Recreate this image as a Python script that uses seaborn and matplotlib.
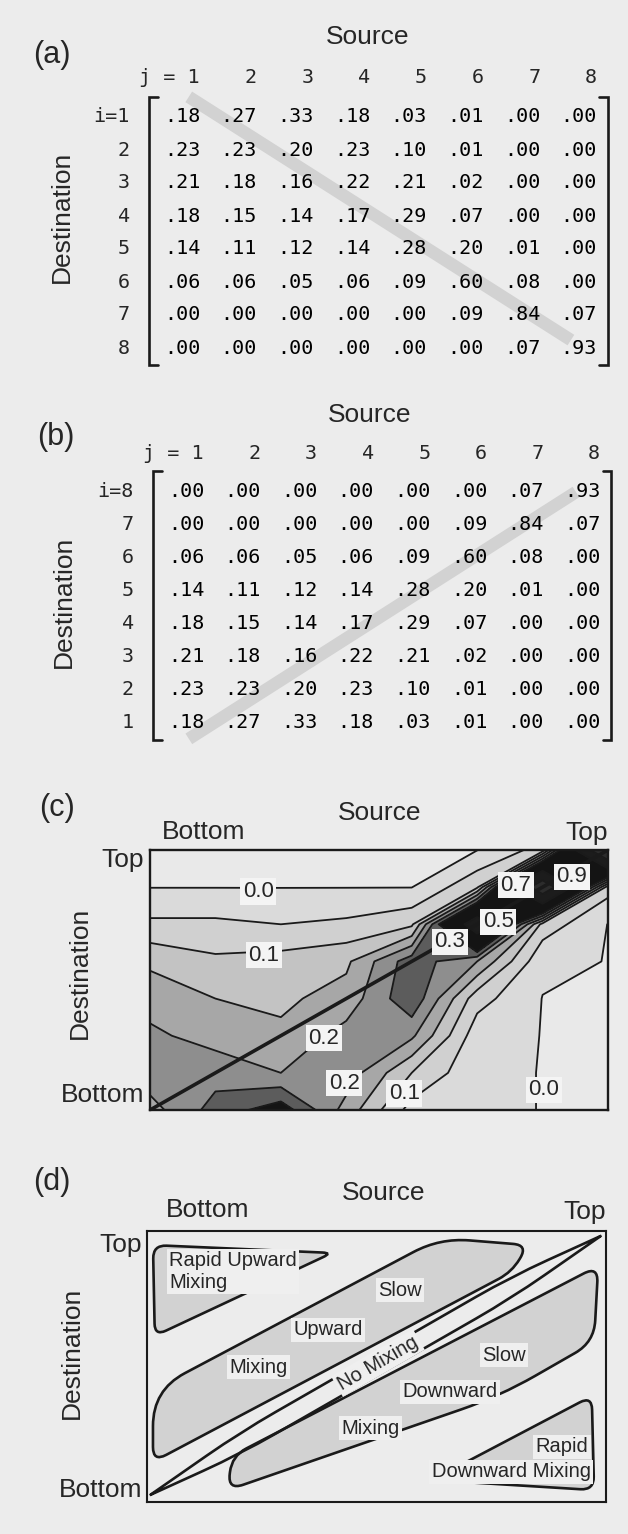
import numpy as np
import matplotlib
matplotlib.use("Agg")
import matplotlib.pyplot as plt
from matplotlib.colors import ListedColormap
from matplotlib.path import Path
from matplotlib.patches import PathPatch
import seaborn as sns

sns.set_theme(style="white")
plt.rcParams["font.family"] = ["Liberation Sans", "DejaVu Sans"]

# ---------------------------------------------------------------- data
# layers, numbered from the bottom (1) to the top (8)
layers = [1, 2, 3, 4, 5, 6, 7, 8]

# fraction of destination layer i that came from source layer j
dest_1 = [0.18, 0.27, 0.33, 0.18, 0.03, 0.01, 0.00, 0.00]
dest_2 = [0.23, 0.23, 0.20, 0.23, 0.10, 0.01, 0.00, 0.00]
dest_3 = [0.21, 0.18, 0.16, 0.22, 0.21, 0.02, 0.00, 0.00]
dest_4 = [0.18, 0.15, 0.14, 0.17, 0.29, 0.07, 0.00, 0.00]
dest_5 = [0.14, 0.11, 0.12, 0.14, 0.28, 0.20, 0.01, 0.00]
dest_6 = [0.06, 0.06, 0.05, 0.06, 0.09, 0.60, 0.08, 0.00]
dest_7 = [0.00, 0.00, 0.00, 0.00, 0.00, 0.09, 0.84, 0.07]
dest_8 = [0.00, 0.00, 0.00, 0.00, 0.00, 0.00, 0.07, 0.93]

# contour levels; the lowest one traces the edge of the zero region
line_levels = [0.001, 0.05, 0.10, 0.15, 0.20, 0.25, 0.30, 0.50, 0.70, 0.90]
fill_levels = [-1.0] + line_levels + [2.0]
fill_colors = ["#e9e9e9", "#dadada", "#d0d0d0", "#c3c3c3", "#a7a7a7",
               "#8e8e8e", "#5c5c5c", "#141414", "#1c1c1c", "#2c2c2c", "#0c0c0c"]

# contour labels: text and position as fraction of the panel box
clabel_text = ["0.0", "0.1", "0.2", "0.2", "0.1", "0.0", "0.3", "0.5", "0.7", "0.9"]
clabel_x = [0.236, 0.249, 0.380, 0.424, 0.555, 0.860, 0.655, 0.760, 0.799, 0.921]
clabel_y = [0.840, 0.596, 0.276, 0.103, 0.064, 0.077, 0.647, 0.724, 0.865, 0.897]

# schematic regions (box fractions) with corner rounding (box-height units)
rapid_up_pts = [(0.013, 0.948), (0.403, 0.919), (0.017, 0.613)]
rapid_up_rad = [0.05, 0.035, 0.045]
slow_up_pts = [(0.013, 0.148), (0.013, 0.413), (0.638, 0.974), (0.830, 0.948), (0.795, 0.849)]
slow_up_rad = [0.055, 0.15, 0.11, 0.055, 0.055]
slow_down_pts = [(0.176, 0.044), (0.185, 0.170), (0.983, 0.871), (0.974, 0.590), (0.769, 0.391)]
slow_down_rad = [0.06, 0.06, 0.06, 0.08, 0.15]
rapid_down_pts = [(0.621, 0.081), (0.969, 0.391), (0.974, 0.044)]
rapid_down_rad = [0.04, 0.05, 0.05]
no_mix_pts = [(0.007, 0.026), (0.203, 0.257), (0.793, 0.831), (0.989, 0.982),
              (0.793, 0.751), (0.203, 0.177)]
no_mix_rad = [0.004, 0.15, 0.15, 0.004, 0.15, 0.15]

region_text = ["Rapid Upward\nMixing", "Slow", "Upward", "Mixing", "No Mixing",
               "Slow", "Downward", "Mixing", "Rapid", "Downward Mixing"]
region_x = [0.048, 0.551, 0.394, 0.242, 0.503, 0.778, 0.660, 0.486, 0.962, 0.967]
region_y = [0.851, 0.782, 0.635, 0.498, 0.513, 0.542, 0.406, 0.273, 0.203, 0.111]
region_ha = ["left", "center", "center", "center", "center",
             "center", "center", "center", "right", "right"]

# ---------------------------------------------------------------- style
BG = "#ececec"
W, H = 628, 1534
MONO = "DejaVu Sans Mono"
LBL = 19

fig = plt.figure(figsize=(W / 100, H / 100), dpi=100, facecolor=BG)


def rect(left, top, right, bottom):
    return [left / W, 1 - bottom / H, (right - left) / W, (bottom - top) / H]


def ftext(x, y, s, **kw):
    fig.text(x / W, 1 - y / H, s, **kw)


matrix = np.array([dest_1, dest_2, dest_3, dest_4, dest_5, dest_6, dest_7, dest_8])
cell_text = np.array([[".%02d" % round(v * 100) for v in row] for row in matrix])
clear = ListedColormap([(0, 0, 0, 0)])


def matrix_panel(box, mat, txt, row_names, header_y, band):
    ax = fig.add_axes(rect(*box))
    sns.heatmap(mat, annot=txt, fmt="", cmap=clear, cbar=False, ax=ax,
                xticklabels=False, yticklabels=False,
                annot_kws=dict(family=MONO, size=14.5, color="black"))
    ax.set_facecolor("none")
    for s in ax.spines.values():
        s.set_visible(False)
    # stippled diagonal band
    ax.plot(band[0], band[1], color="#d2d2d2", lw=9, solid_capstyle="butt",
            zorder=0.5, clip_on=False)
    # column headers and row labels
    for k, j in enumerate(layers):
        ax.text(k + 0.82, header_y, ("j = %d" % j) if k == 0 else str(j),
                ha="right", va="center", family=MONO, size=14.5)
    for r, name in enumerate(row_names):
        ax.text(-0.42, r + 0.5, name, ha="right", va="center", family=MONO, size=14.5)
    # matrix brackets
    y0, y1 = -0.1, len(layers) + 0.03
    ax.plot([0.07, -0.08, -0.08, 0.07], [y0, y0, y1, y1], color="k", lw=1.9,
            clip_on=False, solid_joinstyle="miter")
    x8 = len(layers) + 0.01
    ax.plot([x8 - 0.15, x8, x8, x8 - 0.15], [y0, y0, y1, y1], color="k", lw=1.9,
            clip_on=False, solid_joinstyle="miter")
    return ax


# (a) destination 1 at the top
names_a = ["i=1"] + [str(i) for i in layers[1:]]
matrix_panel((153.6, 100.5, 607.2, 364.5), matrix, cell_text, names_a, -0.71,
             ([0.62, 7.36], [-0.11, 7.26]))
ftext(52, 55, "(a)", ha="center", va="center", size=22)
ftext(368, 37, "Source", ha="center", va="center", size=LBL)
ftext(62, 217, "Destination", ha="center", va="center", size=LBL, rotation=90)

# (b) destination 8 at the top
names_b = ["i=8"] + [str(i) for i in layers[::-1][1:]]
matrix_panel((157.7, 474.5, 610.5, 739.5), matrix[::-1], cell_text[::-1], names_b, -0.62,
             ([0.55, 7.39], [7.98, 0.53]))
ftext(56, 437, "(b)", ha="center", va="center", size=22)
ftext(370, 415, "Source", ha="center", va="center", size=LBL)
ftext(64, 602, "Destination", ha="center", va="center", size=LBL, rotation=90)

# (c) contoured matrix
axc = fig.add_axes(rect(150, 850, 608, 1110))
X, Y = np.meshgrid(layers, layers)
axc.contourf(X, Y, matrix, levels=fill_levels, colors=fill_colors)
axc.contour(X, Y, matrix, levels=line_levels, colors="k", linewidths=1.3)
axc.plot(layers, layers, color="k", lw=2.6)
span = layers[-1] - layers[0]
for t, bx, by in zip(clabel_text, clabel_x, clabel_y):
    axc.text(layers[0] + span * bx, layers[0] + span * by, t, ha="center", va="center",
             size=16, zorder=5,
             bbox=dict(boxstyle="square,pad=0.12", fc="#f4f4f4", ec="none"))
axc.set_xlim(layers[0], layers[-1])
axc.set_ylim(layers[0], layers[-1])
axc.set_xticks([])
axc.set_yticks([])
for s in axc.spines.values():
    s.set_color("k")
    s.set_linewidth(1.7)
ftext(57, 808, "(c)", ha="center", va="center", size=22)
ftext(380, 813, "Source", ha="center", va="center", size=LBL)
ftext(204, 832, "Bottom", ha="center", va="center", size=LBL)
ftext(608, 833, "Top", ha="right", va="center", size=LBL)
ftext(144, 860, "Top", ha="right", va="center", size=LBL)
ftext(144, 1095, "Bottom", ha="right", va="center", size=LBL)
ftext(80, 973, "Destination", ha="center", va="center", size=LBL, rotation=90)

# (d) schematic of mixing regimes
axd = fig.add_axes(rect(147, 1231, 606, 1502))
axd.set_xlim(0, 1)
axd.set_ylim(0, 1)
axd.set_facecolor("none")
axd.set_xticks([])
axd.set_yticks([])
for s in axd.spines.values():
    s.set_color("k")
    s.set_linewidth(1.5)
ASPECT = (606 - 147) / (1502 - 1231)


def rounded(pts, radii):
    p = np.asarray(pts, float) * [ASPECT, 1.0]
    n = len(p)
    verts, codes = [], []
    for k in range(n):
        cur, prv, nxt = p[k], p[k - 1], p[(k + 1) % n]
        lp, ln = np.linalg.norm(prv - cur), np.linalg.norm(nxt - cur)
        d = min(radii[k], 0.5 * lp, 0.5 * ln)
        a = cur + (prv - cur) / lp * d
        b = cur + (nxt - cur) / ln * d
        verts.append(a)
        codes.append(Path.MOVETO if k == 0 else Path.LINETO)
        verts += [cur, b]
        codes += [Path.CURVE3, Path.CURVE3]
    verts += [verts[0], verts[0]]
    codes += [Path.LINETO, Path.CLOSEPOLY]
    v = np.array(verts) / [ASPECT, 1.0]
    return Path(v, codes)


for pts, rad in [(rapid_up_pts, rapid_up_rad), (slow_up_pts, slow_up_rad),
                 (slow_down_pts, slow_down_rad), (rapid_down_pts, rapid_down_rad)]:
    axd.add_patch(PathPatch(rounded(pts, rad), fc="#d2d2d2", ec="k", lw=1.9, zorder=2))
axd.add_patch(PathPatch(rounded(no_mix_pts, no_mix_rad), fc="none", ec="k", lw=1.9, zorder=2))

for t, x, y, ha in zip(region_text, region_x, region_y, region_ha):
    axd.text(x, y, t, ha=ha, va="center", size=14.5, zorder=5, linespacing=1.15,
             rotation=30 if t == "No Mixing" else 0, rotation_mode="anchor",
             bbox=dict(boxstyle="square,pad=0.12", fc="#efefef", ec="none"))

ftext(52, 1182, "(d)", ha="center", va="center", size=22)
ftext(384, 1193, "Source", ha="center", va="center", size=LBL)
ftext(208, 1210, "Bottom", ha="center", va="center", size=LBL)
ftext(606, 1212, "Top", ha="right", va="center", size=LBL)
ftext(142, 1245, "Top", ha="right", va="center", size=LBL)
ftext(142, 1490, "Bottom", ha="right", va="center", size=LBL)
ftext(72, 1353, "Destination", ha="center", va="center", size=LBL, rotation=90)

fig.savefig("out.png", dpi=100, facecolor=BG)
